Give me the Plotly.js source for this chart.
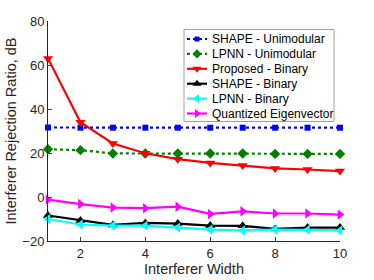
<!DOCTYPE html>
<html><head><meta charset="utf-8">
<script src="https://cdn.plot.ly/plotly-3.0.1.min.js"></script>
<style>html,body{margin:0;padding:0;background:#fff}#chart{width:374px;height:280px}</style>
</head><body><div id="chart"></div>
<script>
const widths = [1,2,3,4,5,6,7,8,9,10];
const shapeUni = [31.6,31.5,31.5,31.5,31.5,31.5,31.5,31.5,31.5,31.5];
const lpnnUni = [21.7,21.3,19.8,19.8,19.8,19.8,19.8,19.6,19.6,19.6];
const proposedBin = [63.0,34.0,24.3,19.9,17.2,15.5,14.3,13.0,12.5,11.8];
const shapeBin = [-8.4,-10.7,-12.7,-11.8,-12.1,-13.0,-13.1,-14.5,-13.9,-13.9];
const lpnnBin = [-10.0,-12.5,-13.0,-13.0,-13.9,-14.8,-15.2,-14.8,-14.9,-15.2];
const quantEig = [-1.2,-3.2,-4.8,-5.1,-4.4,-7.7,-6.5,-7.5,-7.5,-8.0];
const names = ['SHAPE - Unimodular','LPNN - Unimodular','Proposed - Binary','SHAPE - Binary','LPNN - Binary','Quantized Eigenvector'];
const colors = ['#0000ff','#008000','#ff0000','#000000','#00ffff','#ff00ff'];
const dashes = ['3px,3px','3px,3px','solid','solid','solid','solid'];
const symbols = ['square','diamond','triangle-down','triangle-up','triangle-left','triangle-right'];
const series = [shapeUni, lpnnUni, proposedBin, shapeBin, lpnnBin, quantEig];

const W = 374, H = 280, L = 48, R = 34, T = 21, B = 39;
const msize = [6,8,9,9,9,9];
const data = series.map((y, i) => ({
  x: widths, y: y, name: names[i], type:'scatter', mode:'lines+markers',
  showlegend:false, cliponaxis:false,
  line:{color:colors[i], width:2.2, dash:dashes[i]},
  marker:{symbol:symbols[i], size: msize[i], color:colors[i]}
}));

// custom compact legend (pixel coords on overlay axes)
const legX0 = 184, legX1 = 334, legY0 = 29.5, legY1 = 121.5;
const rowY0 = 39, rowStep = 14.9, sampleX0 = 187, sampleX1 = 207, textX = 210;
const annotations = [];
series.forEach((s, i) => {
  const yy = rowY0 + i * rowStep;
  data.push({x:[sampleX0, (sampleX0+sampleX1)/2, sampleX1], y:[yy,yy,yy], xaxis:'x2', yaxis:'y2',
    type:'scatter', mode:'lines', showlegend:false, hoverinfo:'skip',
    line:{color:colors[i], width:2.2, dash:dashes[i]}});
  data.push({x:[(sampleX0+sampleX1)/2], y:[yy], xaxis:'x2', yaxis:'y2',
    type:'scatter', mode:'markers', showlegend:false, hoverinfo:'skip',
    marker:{symbol:symbols[i], size: msize[i]-1, color:colors[i]}});
  annotations.push({x:textX, y:yy, xref:'x2', yref:'y2', text:names[i], showarrow:false,
    xanchor:'left', yanchor:'middle', font:{size:12, color:'#000'}});
});

const layout = {
  width:W, height:H,
  margin:{l:L, r:R, t:T, b:B},
  paper_bgcolor:'#fff', plot_bgcolor:'#fff',
  font:{family:'Liberation Sans, Arial, sans-serif', color:'#262626', size:13},
  showlegend:false,
  xaxis:{range:[1,10], tickvals:[2,4,6,8,10], ticks:'inside', ticklen:4,
    showgrid:false, zeroline:false, showline:true, linecolor:'#262626', linewidth:1,
    tickfont:{size:13}, title:{text:'Interferer Width', font:{size:14.5}, standoff:3}},
  yaxis:{range:[-20,80], tickvals:[-20,0,20,40,60,80], ticks:'inside', ticklen:4,
    showgrid:false, zeroline:false, showline:true, linecolor:'#262626', linewidth:1,
    tickfont:{size:13}, title:{text:'Interferer Rejection Ratio, dB', font:{size:14.5}, standoff:2}},
  xaxis2:{overlaying:'x', range:[L, W-R], visible:false, fixedrange:true},
  yaxis2:{overlaying:'y', range:[H-B, T], visible:false, fixedrange:true},
  shapes:[{type:'rect', xref:'x2', yref:'y2', x0:legX0, x1:legX1, y0:legY0, y1:legY1,
    line:{color:'#a0a0a0', width:1}, fillcolor:'#ffffff', layer:'below'}],
  annotations: annotations
};
Plotly.newPlot('chart', data, layout, {displayModeBar:false, staticPlot:true});
</script></body></html>
